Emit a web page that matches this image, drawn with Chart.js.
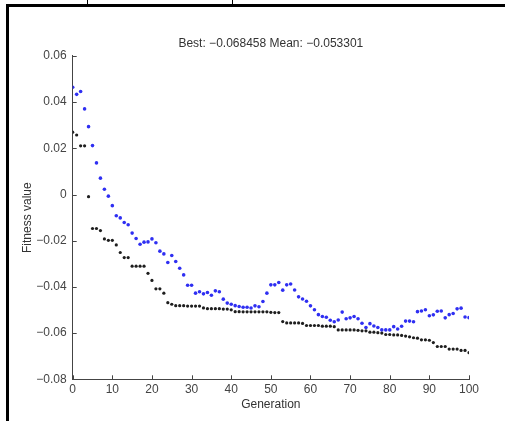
<!DOCTYPE html>
<html>
<head>
<meta charset="utf-8">
<script src="https://cdn.jsdelivr.net/npm/chart.js@4.4.1/dist/chart.umd.min.js"></script>
<style>
  body { margin: 0; background: #fff; }
  #wrap { position: relative; width: 505px; height: 421px; overflow: hidden; }
  #wrap canvas { position: absolute; left: 0; top: 0; }
  .ln { position: absolute; background: #000; }
</style>
</head>
<body>
<div id="wrap">
  <canvas id="g_fitness" width="505" height="421"></canvas>
  <!-- bordure du cadre -->
  <div class="ln" style="left:6px; top:4px; width:499px; height:3px;"></div>
  <div class="ln" style="left:6px; top:4px; width:3px; height:417px;"></div>
  <div class="ln" style="left:87px; top:0; width:1px; height:4px;"></div>
  <div class="ln" style="left:232px; top:0; width:1px; height:4px;"></div>
</div>
<script>
// generations 0..100
const generations = [0,1,2,3,4,5,6,7,8,9,10,11,12,13,14,15,16,17,18,19,20,
  21,22,23,24,25,26,27,28,29,30,31,32,33,34,35,36,37,38,39,40,
  41,42,43,44,45,46,47,48,49,50,51,52,53,54,55,56,57,58,59,60,
  61,62,63,64,65,66,67,68,69,70,71,72,73,74,75,76,77,78,79,80,
  81,82,83,84,85,86,87,88,89,90,91,92,93,94,95,96,97,98,99,100];

// meilleure valeur (points noirs)
const bestFitness = [0.0270, 0.0258, 0.0211, 0.0211, -0.0009, -0.0147, -0.0147, -0.0156, -0.0192, -0.0198,
  -0.0198, -0.0218, -0.0251, -0.0273, -0.0273, -0.0310, -0.0310, -0.0310, -0.0310, -0.0341,
  -0.0372, -0.0408, -0.0408, -0.0427, -0.0468, -0.0475, -0.0481, -0.0481, -0.0481, -0.0483,
  -0.0483, -0.0483, -0.0483, -0.0491, -0.0494, -0.0494, -0.0494, -0.0494, -0.0496, -0.0496,
  -0.0499, -0.0507, -0.0507, -0.0508, -0.0508, -0.0508, -0.0508, -0.0508, -0.0508, -0.0508,
  -0.0510, -0.0511, -0.0511, -0.0550, -0.0556, -0.0556, -0.0556, -0.0556, -0.0558, -0.0567,
  -0.0567, -0.0567, -0.0567, -0.0570, -0.0570, -0.0570, -0.0572, -0.0586, -0.0586, -0.0586,
  -0.0586, -0.0586, -0.0588, -0.0590, -0.0590, -0.0596, -0.0596, -0.0598, -0.0600, -0.0606,
  -0.0606, -0.0608, -0.0608, -0.0610, -0.0613, -0.0616, -0.0620, -0.0622, -0.0629, -0.0629,
  -0.0631, -0.0641, -0.0658, -0.0658, -0.0658, -0.0669, -0.0669, -0.0669, -0.0675, -0.0675,
  -0.068458];

// valeur moyenne (points bleus)
const meanFitness = [0.0465, 0.0434, 0.0446, 0.0371, 0.0294, 0.0212, 0.0137, 0.0071, 0.0023, -0.0007,
  -0.0048, -0.0092, -0.0101, -0.0121, -0.0131, -0.0167, -0.0190, -0.0215, -0.0206, -0.0205,
  -0.0192, -0.0209, -0.0245, -0.0257, -0.0294, -0.0264, -0.0290, -0.0319, -0.0348, -0.0393,
  -0.0393, -0.0427, -0.0421, -0.0430, -0.0424, -0.0436, -0.0417, -0.0421, -0.0453, -0.0470,
  -0.0475, -0.0481, -0.0485, -0.0488, -0.0488, -0.0491, -0.0482, -0.0486, -0.0463, -0.0427,
  -0.0391, -0.0391, -0.0381, -0.0414, -0.0391, -0.0387, -0.0413, -0.0443, -0.0452, -0.0462,
  -0.0482, -0.0499, -0.0520, -0.0528, -0.0531, -0.0544, -0.0551, -0.0543, -0.0509, -0.0538,
  -0.0534, -0.0528, -0.0538, -0.0557, -0.0576, -0.0559, -0.0569, -0.0576, -0.0586, -0.0586,
  -0.0586, -0.0572, -0.0582, -0.0570, -0.0548, -0.0548, -0.0551, -0.0507, -0.0504, -0.0499,
  -0.0525, -0.0521, -0.0505, -0.0504, -0.0534, -0.0520, -0.0515, -0.0495, -0.0492, -0.0530,
  -0.053301];

const xTicks = [0, 10, 20, 30, 40, 50, 60, 70, 80, 90, 100];
const yTicks = [-0.08, -0.06, -0.04, -0.02, 0, 0.02, 0.04, 0.06];
const titleText = "Best: \u22120.068458 Mean: \u22120.053301";

const FONT = "'Liberation Sans', Arial, sans-serif";

function fmtTick(v) {
  let s = String(Math.round(v * 100) / 100);
  return s.replace("-", "\u2212");
}

// petites graduations vers l'interieur (style matlab)
const innerTicks = {
  id: "innerTicks",
  afterDraw(chart) {
    const ctx = chart.ctx;
    const area = chart.chartArea;
    const sx = chart.scales.x, sy = chart.scales.y;
    ctx.save();
    ctx.strokeStyle = "#444";
    ctx.lineWidth = 1;
    xTicks.forEach(function(t) {
      const px = Math.round(sx.getPixelForValue(t)) + 0.5;
      ctx.beginPath();
      ctx.moveTo(px, area.bottom);
      ctx.lineTo(px, area.bottom - 4);
      ctx.stroke();
    });
    yTicks.forEach(function(t) {
      const py = Math.round(sy.getPixelForValue(t)) + 0.5;
      ctx.beginPath();
      ctx.moveTo(area.left, py);
      ctx.lineTo(area.left + 4, py);
      ctx.stroke();
    });
    ctx.restore();
  }
};

window.addEventListener("load", () => {
  const ctx = document.getElementById("g_fitness").getContext("2d");
  const bestPts = generations.map(function(g, i) { return {x: g, y: bestFitness[i]}; });
  const meanPts = generations.map(function(g, i) { return {x: g, y: meanFitness[i]}; });

  const config = {
    type: "scatter",
    data: {
      datasets: [{
        label: "Best",
        data: bestPts,
        backgroundColor: "#1e1e1e",
        borderWidth: 0,
        pointRadius: 1.6
      }, {
        label: "Mean",
        data: meanPts,
        backgroundColor: "#2f2ff2",
        borderWidth: 0,
        pointRadius: 1.8
      }]
    },
    plugins: [innerTicks],
    options: {
      responsive: false,
      animation: false,
      layout: { padding: { left: 0, right: 36, top: 0, bottom: 0 } },
      plugins: {
        legend: { display: false },
        tooltip: { enabled: false },
        title: {
          display: true,
          fullSize: false,
          text: titleText,
          color: "#333",
          font: { family: FONT, size: 12, weight: "normal" },
          padding: { top: 36.8, bottom: 4.8 }
        }
      },
      scales: {
        x: {
          type: "linear",
          min: 0, max: 100,
          afterFit: function(scale) { scale.height = 41.7; },
          afterBuildTicks: function(scale) { scale.ticks = xTicks.map(function(v) { return {value: v}; }); },
          grid: { display: false, drawTicks: false },
          border: { display: true, color: "#444", width: 1 },
          ticks: { color: "#444", font: { family: FONT, size: 12 }, padding: 3, maxRotation: 0 },
          title: {
            display: true, text: "Generation", color: "#333",
            font: { family: FONT, size: 12 },
            padding: { top: 0, bottom: 8.8 }
          }
        },
        y: {
          type: "linear",
          min: -0.08, max: 0.06,
          afterFit: function(scale) { scale.width = 72.7; },
          afterBuildTicks: function(scale) { scale.ticks = yTicks.map(function(v) { return {value: v}; }); },
          grid: { display: false, drawTicks: false },
          border: { display: true, color: "#444", width: 1 },
          ticks: {
            color: "#444", font: { family: FONT, size: 12 }, padding: 6,
            callback: function(v) { return fmtTick(v); }
          },
          title: {
            display: true, text: "Fitness value", color: "#333",
            font: { family: FONT, size: 12 },
            padding: { top: 20.8, bottom: 0 }
          }
        }
      }
    }
  };
  new Chart(ctx, config);
});
</script>
</body>
</html>
